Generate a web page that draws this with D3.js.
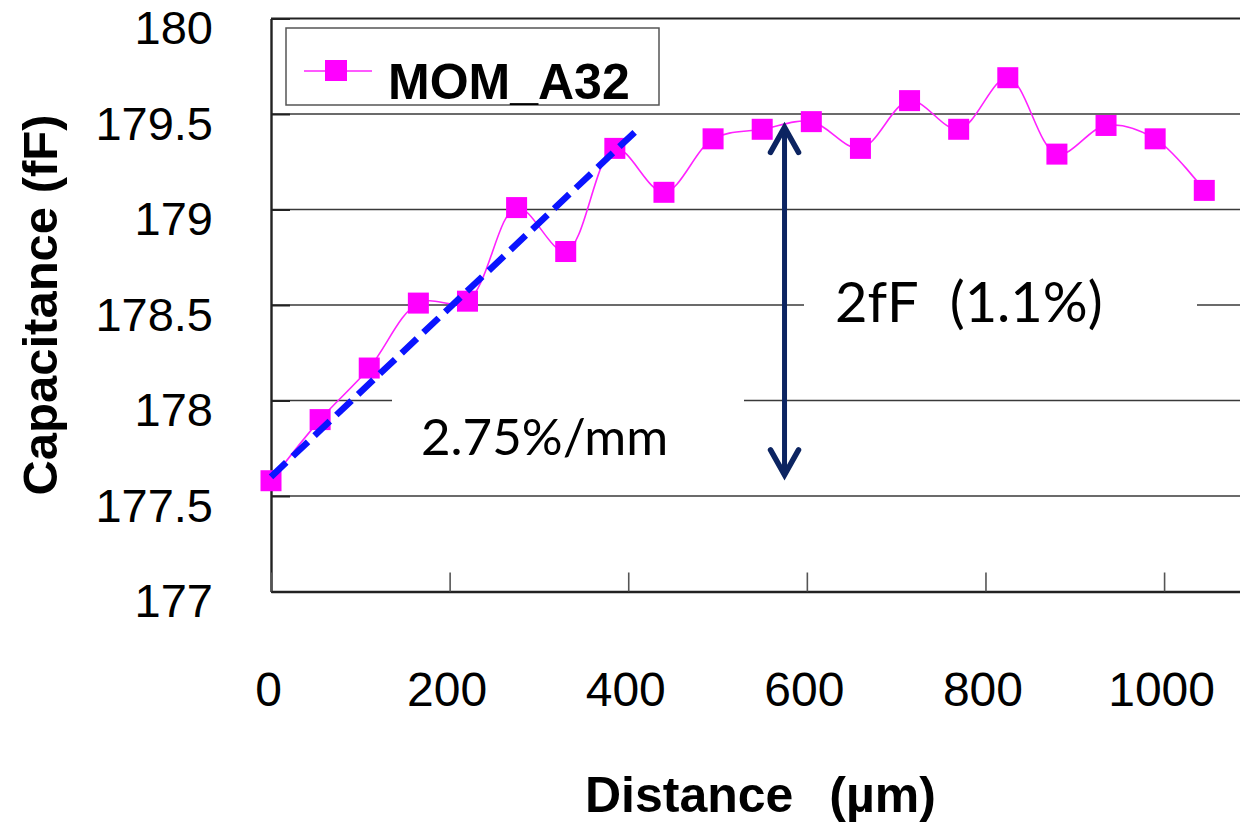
<!DOCTYPE html>
<html>
<head>
<meta charset="utf-8">
<script src="https://cdn.jsdelivr.net/npm/d3@7"></script>
<style>
  html, body { margin: 0; padding: 0; background: #fff; }
  svg { display: block; }
</style>
</head>
<body>
<svg id="chart" width="1240" height="825"></svg>
<script>
// ---- Data ----
const distances = [0, 55, 110, 165, 220, 275, 330, 385, 440, 495, 550, 605, 660, 715, 770, 825, 880, 935, 990, 1045];
const capacitance = [177.58, 177.90, 178.17, 178.51, 178.52, 179.01, 178.78, 179.32, 179.09, 179.37,
                     179.42, 179.46, 179.32, 179.57, 179.42, 179.69, 179.29, 179.44, 179.37, 179.10];
const yTicks = [177, 177.5, 178, 178.5, 179, 179.5, 180];
const yTickLabels = ["177", "177.5", "178", "178.5", "179", "179.5", "180"];
const xTicks = [0, 200, 400, 600, 800, 1000];
const xTickLabels = ["0", "200", "400", "600", "800", "1000"];
const trendX = [0, 413];
const trendY = [177.6, 179.43];
const spanX = 575;
const spanY = [177.6, 179.44];
const seriesName = "MOM_A32";
const yTitle = "Capacitance (fF)";
const xTitleMain = "Distance";
const xTitleUnit = "(µm)";
const slopeLabel = "2.75%/mm";
const spanLabelMain = "2fF";
const spanLabelPct = "(1.1%)";

(function () {
// ---- Layout ----
const svg = d3.select("#chart");
const pLeft = 271, pRight = 1240, pTop = 18.5, pBottom = 591.5;
const x = d3.scaleLinear().domain([0, 1085]).range([pLeft, pRight]);
const y = d3.scaleLinear().domain([177, 180]).range([pBottom, pTop]);

// gridlines
svg.append("g").selectAll("line")
  .data(yTicks.filter(v => v > 177))
  .join("line")
  .attr("x1", pLeft).attr("x2", pRight)
  .attr("y1", d => y(d)).attr("y2", d => y(d))
  .attr("stroke", d => d === 180 ? "#222" : "#3a3a3a")
  .attr("stroke-width", d => d === 180 ? 2.2 : 1.6);

// white annotation boxes (they interrupt the gridlines)
svg.append("rect").attr("x", 392).attr("y", 382).attr("width", 352).attr("height", 88).attr("fill", "#fff");
svg.append("rect").attr("x", 804).attr("y", 262).attr("width", 393).attr("height", 88).attr("fill", "#fff");

// axes
const yAxis = d3.axisLeft(y).tickValues(yTicks)
  .tickFormat((d, i) => yTickLabels[i]).tickSizeInner(-19).tickSizeOuter(0).tickPadding(58);
const gy = svg.append("g").attr("transform", `translate(${pLeft},0)`).call(yAxis);
gy.select(".domain").attr("stroke", "#222").attr("stroke-width", 2.4);
gy.selectAll(".tick line").attr("stroke", "#222").attr("stroke-width", 2);
gy.selectAll(".tick text")
  .attr("font-family", "Liberation Sans, Arial, sans-serif")
  .attr("font-size", 47).attr("fill", "#000").attr("dy", 25);

const xAxis = d3.axisBottom(x).tickValues(xTicks)
  .tickFormat((d, i) => xTickLabels[i]).tickSizeInner(-19).tickSizeOuter(0).tickPadding(80);
const gx = svg.append("g").attr("transform", `translate(0,${pBottom})`).call(xAxis);
gx.select(".domain").attr("stroke", "#222").attr("stroke-width", 2.4);
gx.selectAll(".tick line").attr("stroke", "#555").attr("stroke-width", 1.6);
gx.selectAll(".tick text")
  .attr("font-family", "Liberation Sans, Arial, sans-serif")
  .attr("font-size", 48).attr("fill", "#000").attr("dx", -3);

// series line (smoothed)
const pts = distances.map((d, i) => [d, capacitance[i]]);
svg.append("path")
  .datum(pts)
  .attr("fill", "none")
  .attr("stroke", "#ff22ff")
  .attr("stroke-width", 1.6)
  .attr("d", d3.line().x(d => x(d[0])).y(d => y(d[1])).curve(d3.curveCatmullRom.alpha(0.5)));

// markers
const ms = 21;
svg.append("g").selectAll("rect")
  .data(pts)
  .join("rect")
  .attr("x", d => x(d[0]) - ms / 2)
  .attr("y", d => y(d[1]) - ms / 2)
  .attr("width", ms).attr("height", ms)
  .attr("fill", "#ff00ff");

// trend line
svg.append("line")
  .attr("x1", x(trendX[0])).attr("y1", y(trendY[0]))
  .attr("x2", x(trendX[1])).attr("y2", y(trendY[1]))
  .attr("stroke", "#0a14ff").attr("stroke-width", 6.5)
  .attr("stroke-dasharray", "21,9");

// double arrow
const ax = x(spanX), ay1 = y(spanY[1]), ay2 = y(spanY[0]);
const arrowColor = "#0c2461";
svg.append("line").attr("x1", ax).attr("x2", ax).attr("y1", ay1 + 3).attr("y2", ay2 - 3)
  .attr("stroke", arrowColor).attr("stroke-width", 5);
svg.append("path")
  .attr("d", `M${ax - 14},${ay1 + 27} L${ax},${ay1 + 2} L${ax + 14},${ay1 + 27}` +
             ` M${ax - 14},${ay2 - 27} L${ax},${ay2 - 2} L${ax + 14},${ay2 - 27}`)
  .attr("fill", "none").attr("stroke", arrowColor).attr("stroke-width", 5.5)
  .attr("stroke-linecap", "round").attr("stroke-linejoin", "miter");

// annotation texts
svg.append("text").attr("x", 421).attr("y", 455)
  .attr("font-family", "Lato, 'Open Sans', sans-serif").attr("font-size", 51).attr("fill", "#000")
  .text(slopeLabel);
const t2 = svg.append("text").attr("x", 835).attr("y", 322)
  .attr("font-family", "Lato, 'Open Sans', sans-serif").attr("font-size", 56).attr("fill", "#000");
t2.append("tspan").text(spanLabelMain + " ");
t2.append("tspan").attr("dx", 18).text(spanLabelPct);

// legend
svg.append("rect").attr("x", 286).attr("y", 28).attr("width", 373).attr("height", 77)
  .attr("fill", "#fff").attr("stroke", "#555").attr("stroke-width", 1.5);
svg.append("line").attr("x1", 304).attr("x2", 372).attr("y1", 71).attr("y2", 71)
  .attr("stroke", "#ff22ff").attr("stroke-width", 1.6);
svg.append("rect").attr("x", 325).attr("y", 60).attr("width", 22).attr("height", 21).attr("fill", "#ff00ff");
svg.append("text").attr("x", 388).attr("y", 99)
  .attr("font-family", "Liberation Sans, Arial, sans-serif").attr("font-weight", "bold")
  .attr("font-size", 50).attr("fill", "#000").text(seriesName);

// axis titles
svg.append("text")
  .attr("transform", "translate(57,305) rotate(-90)")
  .attr("text-anchor", "middle")
  .attr("font-family", "Liberation Sans, Arial, sans-serif").attr("font-weight", "bold")
  .attr("font-size", 49).attr("fill", "#000").text(yTitle);
const xt = svg.append("text").attr("x", 585).attr("y", 812)
  .attr("font-family", "Liberation Sans, Arial, sans-serif").attr("font-weight", "bold")
  .attr("font-size", 50).attr("fill", "#000");
xt.append("tspan").text(xTitleMain + " ");
xt.append("tspan").attr("dx", 22).text(xTitleUnit);
})();
</script>
</body>
</html>
